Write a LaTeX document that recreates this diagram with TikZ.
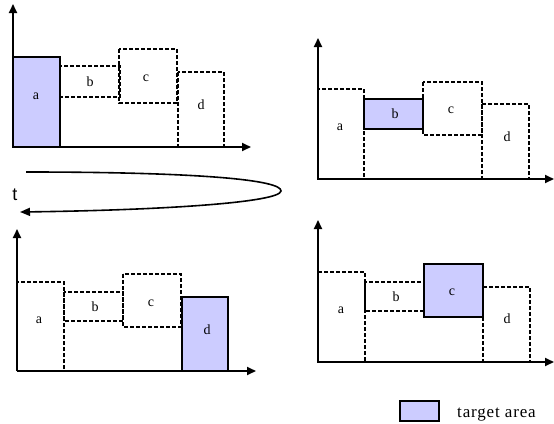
\documentclass[tikz,border=0pt]{standalone}
\usepackage{fontspec}
\setmainfont{Liberation Serif}
\newfontfamily\tfont{Liberation Sans}
\newfontfamily\legfont[LetterSpace=5]{Liberation Serif}
\usetikzlibrary{arrows.meta}
\definecolor{tgt}{RGB}{204,204,255}
\tikzset{
  axis/.style={line width=1.8pt,-{Triangle[length=9pt,width=8pt]}},
  dbox/.style={draw,dash pattern=on 4pt off 2pt,line width=1.5pt},
  tbox/.style={draw,fill=tgt,line width=1.8pt},
  lbl/.style={font=\fontsize{14}{16}\selectfont,inner sep=0pt},
}
\begin{document}
\begin{tikzpicture}[x=1pt,y=-1pt]
\useasboundingbox (0,0) rectangle (554,423);
% ---------- panel 1 (top-left) ----------
\coordinate (o1) at (13,147);
\coordinate (y1) at (13,4);
\coordinate (x1) at (251,147);
\draw[dbox] (60,66) rectangle (120,97);
\draw[dbox] (119,49) rectangle (177,103);
\draw[dbox] (178,72) rectangle (224,147);
\draw[tbox] (13,57) rectangle (60,147);
\draw[axis] (o1) -- (y1);
\draw[axis] (o1) -- (x1);
\node[lbl] (a1) at (36,96) {a};
\node[lbl] (b1) at (90,82) {b};
\node[lbl] (c1) at (146,78) {c};
\node[lbl] (d1) at (201,105) {d};
% ---------- panel 2 (top-right) ----------
\coordinate (o2) at (318,179);
\coordinate (y2) at (318,38);
\coordinate (x2) at (554,179);
\draw[dbox] (318,89) rectangle (364,179);
\draw[dbox] (423,82) rectangle (482,135);
\draw[dbox] (482,104) rectangle (529,179);
\draw[tbox] (364,99) rectangle (423,129);
\draw[axis] (o2) -- (y2);
\draw[axis] (o2) -- (x2);
\node[lbl] (a2) at (340,127) {a};
\node[lbl] (b2) at (395,114) {b};
\node[lbl] (c2) at (451,110) {c};
\node[lbl] (d2) at (507,137) {d};
% ---------- panel 3 (bottom-left) ----------
\coordinate (o3) at (17,371);
\coordinate (y3) at (17,229);
\coordinate (x3) at (256,371);
\draw[dbox] (17,282) rectangle (64,371);
\draw[dbox] (64,292) rectangle (123,321);
\draw[dbox] (123,274) rectangle (181,327);
\draw[tbox] (182,297) rectangle (228,371);
\draw[axis] (o3) -- (y3);
\draw[axis] (o3) -- (x3);
\node[lbl] (a3) at (39,320) {a};
\node[lbl] (b3) at (95,307) {b};
\node[lbl] (c3) at (151,303) {c};
\node[lbl] (d3) at (207,330) {d};
% ---------- panel 4 (bottom-right) ----------
\coordinate (o4) at (318,362);
\coordinate (y4) at (318,220);
\coordinate (x4) at (554,362);
\draw[dbox] (318,272) rectangle (365,362);
\draw[dbox] (365,282) rectangle (424,311);
\draw[dbox] (483,287) rectangle (530,362);
\draw[tbox] (424,264) rectangle (483,317);
\draw[axis] (o4) -- (y4);
\draw[axis] (o4) -- (x4);
\node[lbl] (a4) at (341,310) {a};
\node[lbl] (b4) at (396,297) {b};
\node[lbl] (c4) at (452,292) {c};
\node[lbl] (d4) at (507,319) {d};
% ---------- time loop ----------
\coordinate (ts) at (26,172);
\coordinate (tm) at (281,191);
\coordinate (te) at (20,212);
\draw[line width=1.6pt,-{Triangle[length=10pt,width=8pt]}]
  (ts) .. controls (200,172) and (282,180) .. (tm)
       .. controls (280,202) and (170,210) .. (te);
\node[font=\tfont\fontsize{18}{20}\selectfont,inner sep=0pt] (t) at (15,195) {t};
% ---------- legend ----------
\node[tbox,minimum width=39pt,minimum height=20pt,inner sep=0pt] (leg) at (419.5,411) {};
\node[font=\legfont\fontsize{17}{19}\selectfont,anchor=base west,inner sep=0pt] (legt) at (457,417) {target area};
\end{tikzpicture}
\end{document}
